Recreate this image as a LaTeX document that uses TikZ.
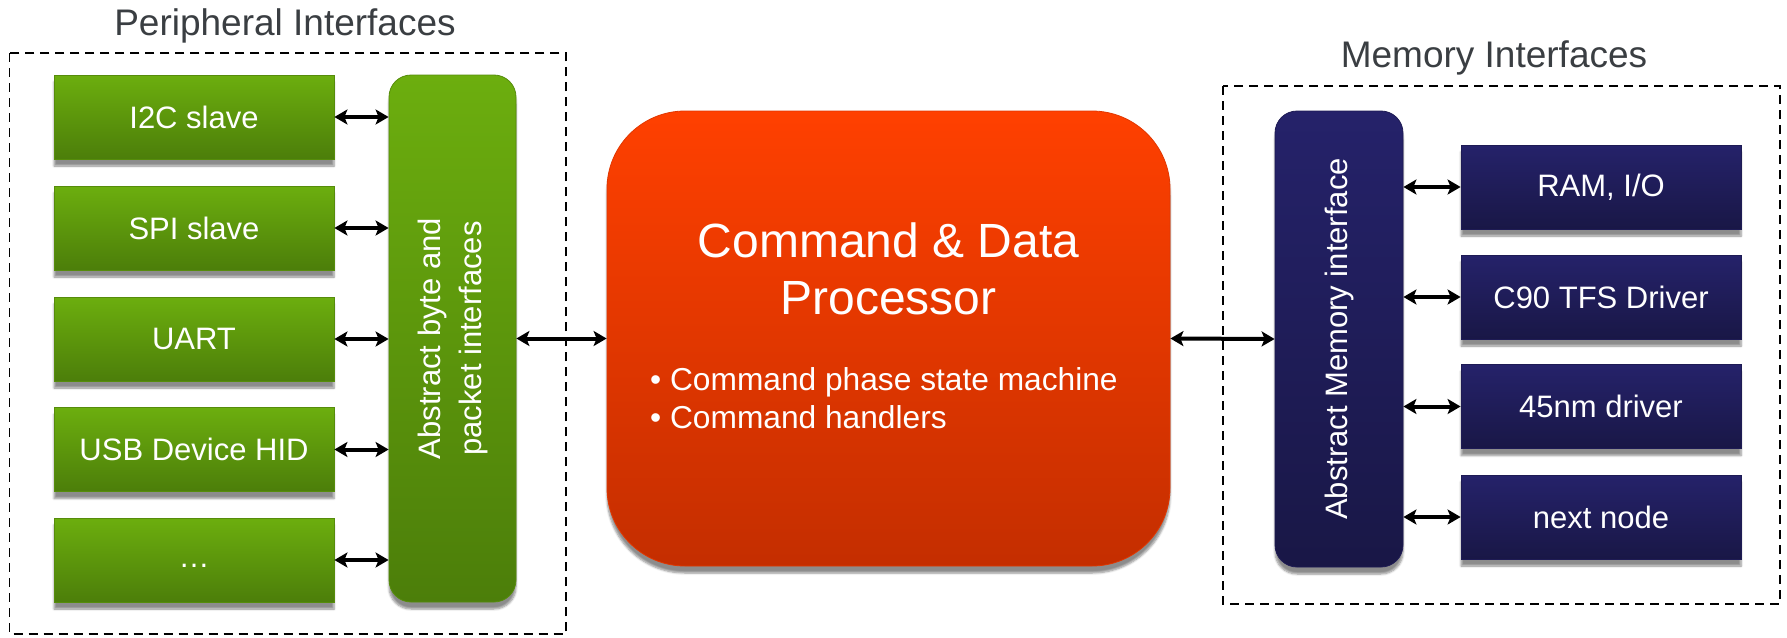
\documentclass[tikz,border=0pt]{standalone}
\usepackage{fontspec}
\setmainfont{Liberation Sans}
\usetikzlibrary{arrows.meta,shadows.blur}

\definecolor{grtop}{RGB}{108,174,14}
\definecolor{grbot}{RGB}{76,126,10}
\definecolor{ortop}{RGB}{255,64,0}
\definecolor{orbot}{RGB}{196,46,0}
\definecolor{nvtop}{RGB}{37,34,106}
\definecolor{nvbot}{RGB}{25,23,70}
\definecolor{titlegray}{RGB}{58,62,66}

\newcommand{\boxfont}{\fontsize{31}{41}\selectfont}

\tikzset{
  boxshadow/.style={blur shadow={shadow xshift=0pt, shadow yshift=-7pt,
      shadow blur steps=6, shadow opacity=45}},
  block/.style={minimum width=280pt, minimum height=84pt, inner sep=0pt,
      text=white, font=\boxfont, boxshadow},
  greenfill/.style={top color=grtop, bottom color=grbot, draw=grbot!70!grtop, line width=0.8pt},
  navyfill/.style={top color=nvtop, bottom color=nvbot, draw=nvbot!60!nvtop, line width=0.8pt},
  greenbox/.style={block, greenfill},
  navybox/.style={block, navyfill},
  vbar/.style={minimum width=127pt, minimum height=527pt, inner sep=0pt,
      rounded corners=22pt, boxshadow},
  vtext/.style={rotate=90, align=center, text=white, font=\boxfont},
  frame/.style={draw=black, line width=1.6pt, dash pattern=on 9pt off 6pt},
  grouptitle/.style={anchor=base, text=titlegray, font=\fontsize{37}{44}\selectfont},
  biarrow/.style={{Stealth[length=13pt,width=15pt,inset=3pt]}-{Stealth[length=13pt,width=15pt,inset=3pt]},
      line width=4pt, black},
}

\begin{document}
\begin{tikzpicture}[x=1pt,y=-1pt]
\useasboundingbox (0,0) rectangle (1787,637);

% group frames and titles
\draw[frame] (9.6,53) rectangle (566,634);
\draw[frame] (1223,86) rectangle (1780,604);
\node[grouptitle] (periph) at (285,35) {Peripheral Interfaces};
\node[grouptitle] (memif) at (1494,67) {Memory Interfaces};

% peripheral blocks
\node[greenbox] (i2c)  at (194,117)   {I2C slave};
\node[greenbox] (spi)  at (194,228)   {SPI slave};
\node[greenbox] (uart) at (194,339)   {UART};
\node[greenbox] (usb)  at (194,449.5) {USB Device HID};
\node[greenbox] (more) at (194,560)   {\raisebox{-7pt}[0pt][0pt]{…}};

% abstract byte / packet layer
\node[vbar, greenfill] (pkt) at (452.5,338.5) {};
\node[vtext] (pkttext) at (pkt.center) {Abstract byte and\\packet interfaces};

% central processor
\node[minimum width=563pt, minimum height=455pt, inner sep=0pt, rounded corners=78pt,
      top color=ortop, bottom color=orbot, draw=orbot!50!ortop, line width=0.8pt,
      boxshadow] (cdp) at (888.5,338.5) {};
\node[anchor=base, text=white, font=\fontsize{48}{56}\selectfont] (cdpt1) at (888.5,257) {Command \& Data};
\node[anchor=base, text=white, font=\fontsize{48}{56}\selectfont] (cdpt2) at (888.5,314) {Processor};
\node[anchor=base west, inner sep=0pt, text=white, font=\fontsize{31.7}{38}\selectfont] (cdpb1) at (650,390) {• Command phase state machine};
\node[anchor=base west, inner sep=0pt, text=white, font=\fontsize{31.7}{38}\selectfont] (cdpb2) at (650,428) {• Command handlers};

% abstract memory layer
\node[vbar, navyfill, minimum width=128pt, minimum height=456pt] (mem) at (1339,339) {};
\node[vtext] (memtext) at (mem.center) {Abstract Memory interface};

% memory blocks
\node[navybox] (ram)  at (1601,187)   {RAM, I/O};
\node[navybox] (c90)  at (1601,297)   {C90 TFS Driver};
\node[navybox] (nm45) at (1601,406.5) {45nm driver};
\node[navybox] (next) at (1601,517)   {next node};

% connectors
\foreach \b in {i2c,spi,uart,usb,more}
  \draw[biarrow] (\b.east) -- (\b.east -| pkt.west);
\draw[biarrow] (pkt.east) -- (cdp.west);
\draw[biarrow] (cdp.east) -- (mem.west);
\foreach \b in {ram,c90,nm45,next}
  \draw[biarrow] (\b.west -| mem.east) -- (\b.west);
\end{tikzpicture}
\end{document}
